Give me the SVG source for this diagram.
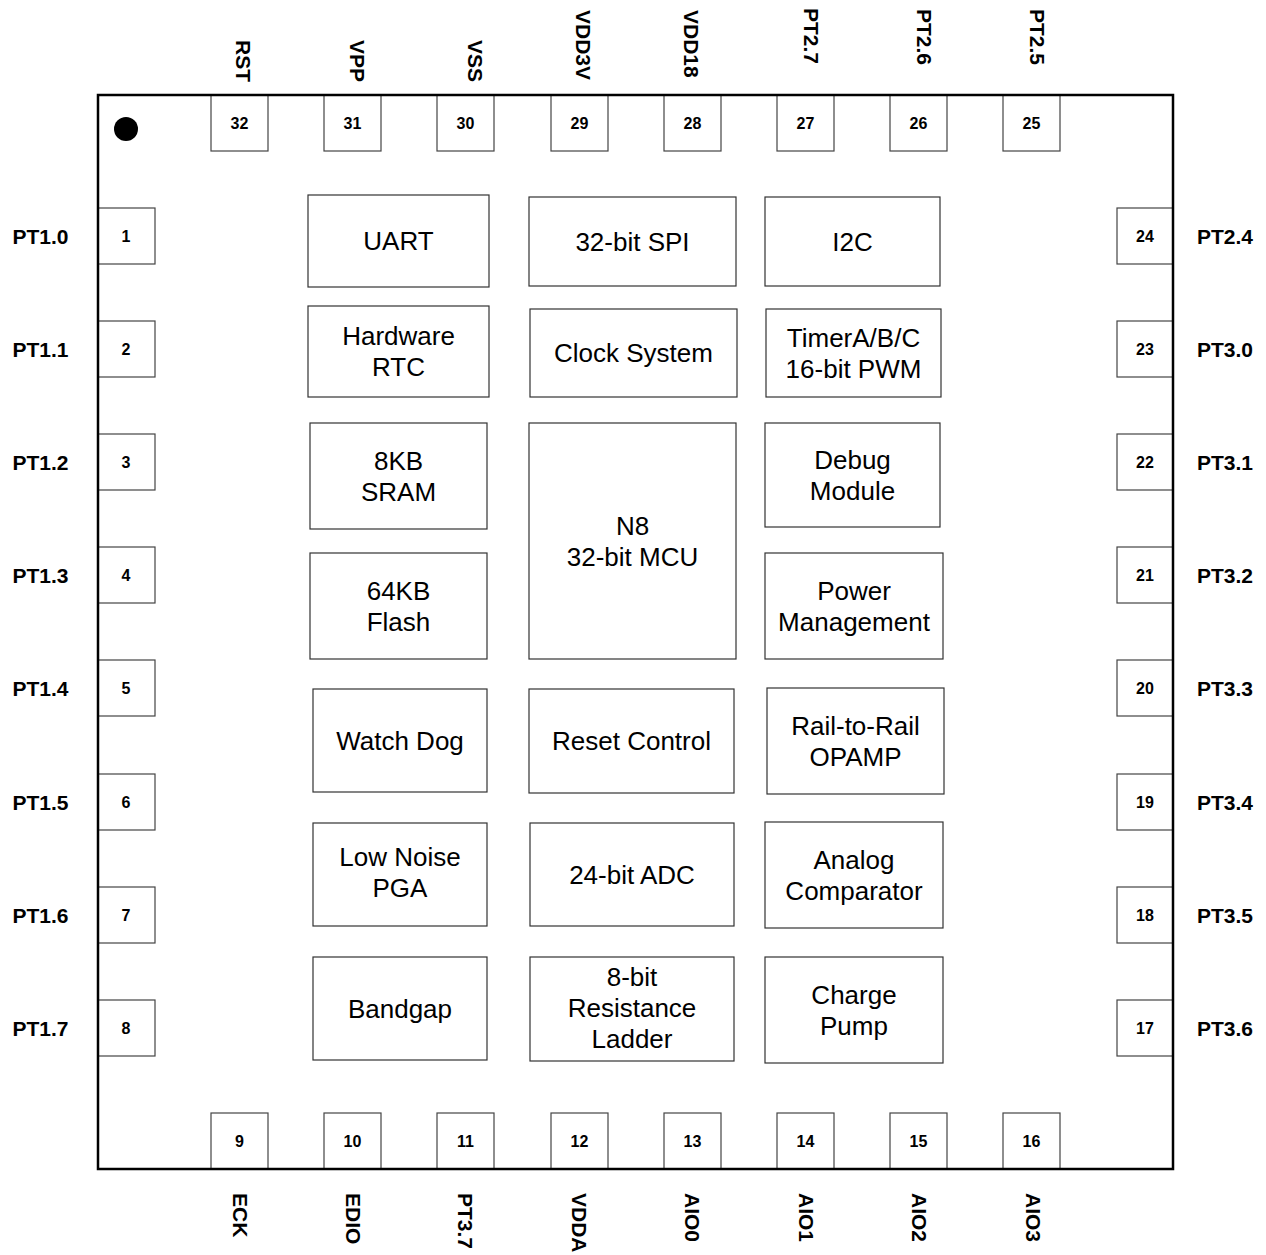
<svg xmlns="http://www.w3.org/2000/svg" width="1266" height="1255" viewBox="0 0 1266 1255">
<style>
  .pin { fill: #ffffff; stroke: #444444; stroke-width: 1.2; }
  .pnum { font-family: "Liberation Sans", Arial, sans-serif; font-weight: bold; font-size: 16px; fill: #000; text-anchor: middle; }
  .plab { font-family: "Liberation Sans", Arial, sans-serif; font-weight: bold; font-size: 21px; fill: #000; }
  .blk { fill: #ffffff; stroke: #333333; stroke-width: 1.2; }
  .btxt { font-family: "Liberation Sans", Arial, sans-serif; font-size: 26px; fill: #000; text-anchor: middle; }
  .body { fill: none; stroke: #000; stroke-width: 2.5; }
</style>
<rect x="0" y="0" width="1266" height="1255" fill="#ffffff"/>
<g id="chip">
  <rect x="98" y="95" width="1075" height="1074" fill="#ffffff" stroke="none"/>
</g>
<g id="pins-top">
  <g id="pin32"><rect class="pin" x="211" y="95" width="57" height="56"/><text class="pnum" x="239.5" y="128.5">32</text><text class="plab" transform="translate(236,40) rotate(90)">RST</text></g>
  <g id="pin31"><rect class="pin" x="324" y="95" width="57" height="56"/><text class="pnum" x="352.5" y="128.5">31</text><text class="plab" transform="translate(350,40) rotate(90)">VPP</text></g>
  <g id="pin30"><rect class="pin" x="437" y="95" width="57" height="56"/><text class="pnum" x="465.5" y="128.5">30</text><text class="plab" transform="translate(467.5,40) rotate(90)">VSS</text></g>
  <g id="pin29"><rect class="pin" x="551" y="95" width="57" height="56"/><text class="pnum" x="579.5" y="128.5">29</text><text class="plab" transform="translate(576,10) rotate(90)">VDD3V</text></g>
  <g id="pin28"><rect class="pin" x="664" y="95" width="57" height="56"/><text class="pnum" x="692.5" y="128.5">28</text><text class="plab" transform="translate(684,10) rotate(90)">VDD18</text></g>
  <g id="pin27"><rect class="pin" x="777" y="95" width="57" height="56"/><text class="pnum" x="805.5" y="128.5">27</text><text class="plab" transform="translate(803.5,8) rotate(90)">PT2.7</text></g>
  <g id="pin26"><rect class="pin" x="890" y="95" width="57" height="56"/><text class="pnum" x="918.5" y="128.5">26</text><text class="plab" transform="translate(916.5,9) rotate(90)">PT2.6</text></g>
  <g id="pin25"><rect class="pin" x="1003" y="95" width="57" height="56"/><text class="pnum" x="1031.5" y="128.5">25</text><text class="plab" transform="translate(1029.5,9) rotate(90)">PT2.5</text></g>
</g>
<g id="pins-bottom">
  <g id="pin9"><rect class="pin" x="211" y="1113" width="57" height="56"/><text class="pnum" x="239.5" y="1147">9</text><text class="plab" transform="translate(233,1193) rotate(90)">ECK</text></g>
  <g id="pin10"><rect class="pin" x="324" y="1113" width="57" height="56"/><text class="pnum" x="352.5" y="1147">10</text><text class="plab" transform="translate(345.5,1193) rotate(90)">EDIO</text></g>
  <g id="pin11"><rect class="pin" x="437" y="1113" width="57" height="56"/><text class="pnum" x="465.5" y="1147">11</text><text class="plab" transform="translate(458,1193) rotate(90)">PT3.7</text></g>
  <g id="pin12"><rect class="pin" x="551" y="1113" width="57" height="56"/><text class="pnum" x="579.5" y="1147">12</text><text class="plab" transform="translate(571.5,1193) rotate(90)">VDDA</text></g>
  <g id="pin13"><rect class="pin" x="664" y="1113" width="57" height="56"/><text class="pnum" x="692.5" y="1147">13</text><text class="plab" transform="translate(685,1193) rotate(90)">AIO0</text></g>
  <g id="pin14"><rect class="pin" x="777" y="1113" width="57" height="56"/><text class="pnum" x="805.5" y="1147">14</text><text class="plab" transform="translate(798.5,1193) rotate(90)">AIO1</text></g>
  <g id="pin15"><rect class="pin" x="890" y="1113" width="57" height="56"/><text class="pnum" x="918.5" y="1147">15</text><text class="plab" transform="translate(912,1193) rotate(90)">AIO2</text></g>
  <g id="pin16"><rect class="pin" x="1003" y="1113" width="57" height="56"/><text class="pnum" x="1031.5" y="1147">16</text><text class="plab" transform="translate(1025.5,1193) rotate(90)">AIO3</text></g>
</g>
<g id="pins-left">
  <g id="pin1"><rect class="pin" x="98" y="208" width="57" height="56"/><text class="pnum" x="126" y="242">1</text><text class="plab" x="40.5" y="243.5" text-anchor="middle">PT1.0</text></g>
  <g id="pin2"><rect class="pin" x="98" y="321" width="57" height="56"/><text class="pnum" x="126" y="355">2</text><text class="plab" x="40.5" y="356.5" text-anchor="middle">PT1.1</text></g>
  <g id="pin3"><rect class="pin" x="98" y="434" width="57" height="56"/><text class="pnum" x="126" y="468">3</text><text class="plab" x="40.5" y="469.5" text-anchor="middle">PT1.2</text></g>
  <g id="pin4"><rect class="pin" x="98" y="547" width="57" height="56"/><text class="pnum" x="126" y="581">4</text><text class="plab" x="40.5" y="582.5" text-anchor="middle">PT1.3</text></g>
  <g id="pin5"><rect class="pin" x="98" y="660" width="57" height="56"/><text class="pnum" x="126" y="694">5</text><text class="plab" x="40.5" y="695.5" text-anchor="middle">PT1.4</text></g>
  <g id="pin6"><rect class="pin" x="98" y="774" width="57" height="56"/><text class="pnum" x="126" y="808">6</text><text class="plab" x="40.5" y="809.5" text-anchor="middle">PT1.5</text></g>
  <g id="pin7"><rect class="pin" x="98" y="887" width="57" height="56"/><text class="pnum" x="126" y="921">7</text><text class="plab" x="40.5" y="922.5" text-anchor="middle">PT1.6</text></g>
  <g id="pin8"><rect class="pin" x="98" y="1000" width="57" height="56"/><text class="pnum" x="126" y="1034">8</text><text class="plab" x="40.5" y="1035.5" text-anchor="middle">PT1.7</text></g>
</g>
<g id="pins-right">
  <g id="pin24"><rect class="pin" x="1117" y="208" width="56" height="56"/><text class="pnum" x="1145" y="242">24</text><text class="plab" x="1225" y="243.5" text-anchor="middle">PT2.4</text></g>
  <g id="pin23"><rect class="pin" x="1117" y="321" width="56" height="56"/><text class="pnum" x="1145" y="355">23</text><text class="plab" x="1225" y="356.5" text-anchor="middle">PT3.0</text></g>
  <g id="pin22"><rect class="pin" x="1117" y="434" width="56" height="56"/><text class="pnum" x="1145" y="468">22</text><text class="plab" x="1225" y="469.5" text-anchor="middle">PT3.1</text></g>
  <g id="pin21"><rect class="pin" x="1117" y="547" width="56" height="56"/><text class="pnum" x="1145" y="581">21</text><text class="plab" x="1225" y="582.5" text-anchor="middle">PT3.2</text></g>
  <g id="pin20"><rect class="pin" x="1117" y="660" width="56" height="56"/><text class="pnum" x="1145" y="694">20</text><text class="plab" x="1225" y="695.5" text-anchor="middle">PT3.3</text></g>
  <g id="pin19"><rect class="pin" x="1117" y="774" width="56" height="56"/><text class="pnum" x="1145" y="808">19</text><text class="plab" x="1225" y="809.5" text-anchor="middle">PT3.4</text></g>
  <g id="pin18"><rect class="pin" x="1117" y="887" width="56" height="56"/><text class="pnum" x="1145" y="921">18</text><text class="plab" x="1225" y="922.5" text-anchor="middle">PT3.5</text></g>
  <g id="pin17"><rect class="pin" x="1117" y="1000" width="56" height="56"/><text class="pnum" x="1145" y="1034">17</text><text class="plab" x="1225" y="1035.5" text-anchor="middle">PT3.6</text></g>
</g>
<g id="chip-outline">
  <rect class="body" x="98" y="95" width="1075" height="1074"/>
  <circle cx="126" cy="129" r="12" fill="#000"/>
</g>
<g id="connectors"></g>
<g id="blocks">
  <g id="uart"><rect class="blk" x="308" y="195" width="181" height="92"/><text class="btxt" x="398.5" y="250">UART</text></g>
  <g id="spi"><rect class="blk" x="529" y="197" width="207" height="89"/><text class="btxt" x="632.5" y="250.5">32-bit SPI</text></g>
  <g id="i2c"><rect class="blk" x="765" y="197" width="175" height="89"/><text class="btxt" x="852.5" y="250.5">I2C</text></g>
  <g id="rtc"><rect class="blk" x="308" y="306" width="181" height="91"/><text class="btxt" x="398.5" y="345">Hardware</text><text class="btxt" x="398.5" y="376">RTC</text></g>
  <g id="clock"><rect class="blk" x="530" y="309" width="207" height="88"/><text class="btxt" x="633.5" y="362">Clock System</text></g>
  <g id="timer"><rect class="blk" x="766" y="309" width="175" height="88"/><text class="btxt" x="853.5" y="346.5">TimerA/B/C</text><text class="btxt" x="853.5" y="377.5">16-bit PWM</text></g>
  <g id="sram"><rect class="blk" x="310" y="423" width="177" height="106"/><text class="btxt" x="398.5" y="469.5">8KB</text><text class="btxt" x="398.5" y="500.5">SRAM</text></g>
  <g id="mcu"><rect class="blk" x="529" y="423" width="207" height="236"/><text class="btxt" x="632.5" y="534.5">N8</text><text class="btxt" x="632.5" y="565.5">32-bit MCU</text></g>
  <g id="debug"><rect class="blk" x="765" y="423" width="175" height="104"/><text class="btxt" x="852.5" y="468.5">Debug</text><text class="btxt" x="852.5" y="499.5">Module</text></g>
  <g id="flash"><rect class="blk" x="310" y="553" width="177" height="106"/><text class="btxt" x="398.5" y="599.5">64KB</text><text class="btxt" x="398.5" y="630.5">Flash</text></g>
  <g id="power"><rect class="blk" x="765" y="553" width="178" height="106"/><text class="btxt" x="854" y="599.5">Power</text><text class="btxt" x="854" y="630.5">Management</text></g>
  <g id="watchdog"><rect class="blk" x="313" y="689" width="174" height="103"/><text class="btxt" x="400" y="749.5">Watch Dog</text></g>
  <g id="reset"><rect class="blk" x="529" y="689" width="205" height="104"/><text class="btxt" x="631.5" y="750">Reset Control</text></g>
  <g id="opamp"><rect class="blk" x="767" y="688" width="177" height="106"/><text class="btxt" x="855.5" y="734.5">Rail-to-Rail</text><text class="btxt" x="855.5" y="765.5">OPAMP</text></g>
  <g id="pga"><rect class="blk" x="313" y="823" width="174" height="103"/><text class="btxt" x="400" y="866">Low Noise</text><text class="btxt" x="400" y="897">PGA</text></g>
  <g id="adc"><rect class="blk" x="530" y="823" width="204" height="103"/><text class="btxt" x="632" y="883.5">24-bit ADC</text></g>
  <g id="comparator"><rect class="blk" x="765" y="822" width="178" height="106"/><text class="btxt" x="854" y="868.5">Analog</text><text class="btxt" x="854" y="899.5">Comparator</text></g>
  <g id="bandgap"><rect class="blk" x="313" y="957" width="174" height="103"/><text class="btxt" x="400" y="1017.5">Bandgap</text></g>
  <g id="ladder"><rect class="blk" x="530" y="957" width="204" height="104"/><text class="btxt" x="632" y="986">8-bit</text><text class="btxt" x="632" y="1017">Resistance</text><text class="btxt" x="632" y="1048">Ladder</text></g>
  <g id="chargepump"><rect class="blk" x="765" y="957" width="178" height="106"/><text class="btxt" x="854" y="1003.5">Charge</text><text class="btxt" x="854" y="1034.5">Pump</text></g>
</g>
</svg>
